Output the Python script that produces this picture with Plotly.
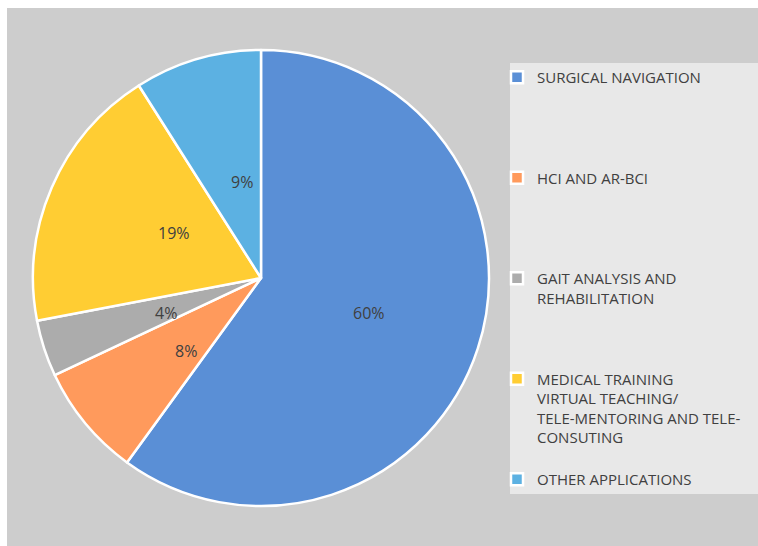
import math

import plotly.graph_objects as go

# Share of AR applications (percent), clockwise from 12 o'clock
categories = [
    "SURGICAL NAVIGATION",
    "HCI AND AR-BCI",
    "GAIT ANALYSIS AND<br>REHABILITATION",
    "MEDICAL TRAINING<br>VIRTUAL TEACHING/<br>TELE-MENTORING AND TELE-<br>CONSUTING",
    "OTHER APPLICATIONS",
]
shares = [60, 8, 4, 19, 9]
colors = ["#5a8fd6", "#ff9a5c", "#acacac", "#ffcd33", "#5cb1e2"]

W, H = 758, 546
CX, CY, R = 261, 278, 228      # pie centre / radius in pixels
LABEL_R = 0.5                  # labels sit halfway out along each bisector

# legend entries are padded with empty lines so each entry takes the same height
ROWS = 5
legend_labels = []
for i, c in enumerate(categories):
    n = c.count("<br>") + 1
    pad = ROWS - n if i < len(categories) - 1 else 0
    legend_labels.append(c + "<br>&nbsp;" * pad)


def px(x):
    return x / W


def py(y):
    return 1 - y / H


fig = go.Figure(go.Pie(
    labels=legend_labels,
    values=shares,
    sort=False,
    direction="clockwise",
    rotation=0,
    marker=dict(colors=colors, line=dict(color="white", width=2.5)),
    textinfo="none",
    domain=dict(x=[px(CX - R), px(CX + R)], y=[py(CY + R), py(CY - R)]),
    hoverinfo="skip",
))

# percentage labels, placed on each slice's bisector
total = sum(shares)
cum = 0
annotations = []
for v in shares:
    theta = 2 * math.pi * (cum + v / 2) / total
    cum += v
    x = CX + LABEL_R * R * math.sin(theta)
    y = CY - LABEL_R * R * math.cos(theta)
    annotations.append(dict(
        x=px(x), y=py(y), xref="paper", yref="paper", showarrow=False,
        text=f"{round(100 * v / total)}%",
        font=dict(size=16, color="#404040", family="Open Sans"),
    ))

fig.update_layout(
    width=W, height=H,
    margin=dict(l=0, r=0, t=0, b=0),
    paper_bgcolor="white",
    font=dict(family="Open Sans", color="#404040"),
    showlegend=True,
    legend=dict(
        x=px(497), y=py(61), xanchor="left", yanchor="top",
        bgcolor="rgba(0,0,0,0)", valign="top",
        font=dict(size=15, color="#404040", family="Open Sans"),
    ),
    annotations=annotations,
    shapes=[
        dict(type="rect", xref="paper", yref="paper", layer="below",
             x0=px(7), x1=1, y0=0, y1=py(8),
             fillcolor="#cdcdcd", line=dict(width=0)),
        dict(type="rect", xref="paper", yref="paper", layer="below",
             x0=px(510), x1=1, y0=py(494), y1=py(63),
             fillcolor="#e8e8e8", line=dict(width=0)),
    ],
)

# drop the default page margin so the figure fills the window exactly
fig.write_html(
    "out.html",
    config={"displayModeBar": False},
    post_script="document.body.style.margin='0';"
                "document.body.style.overflow='hidden';",
)
